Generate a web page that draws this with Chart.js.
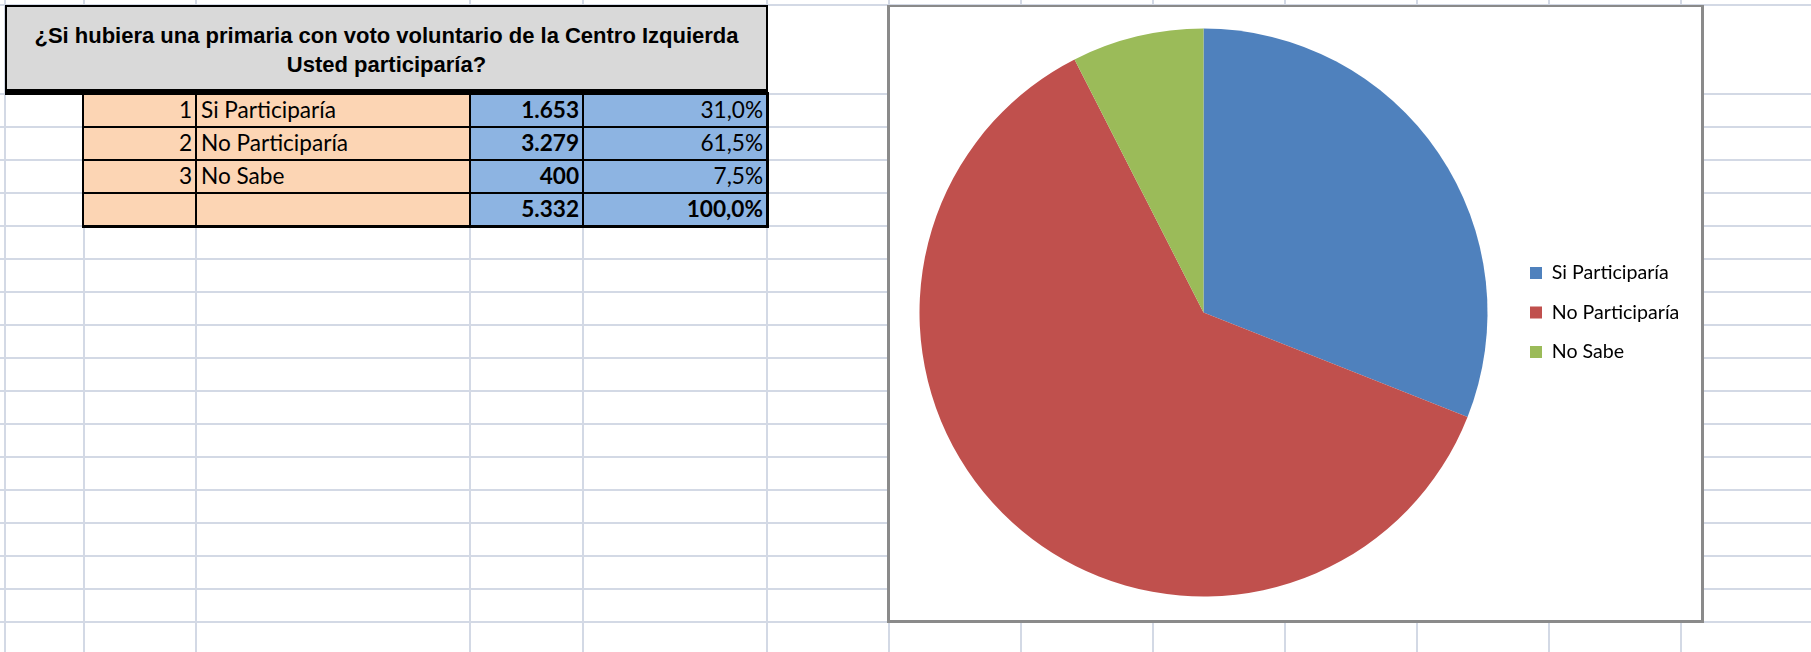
<!DOCTYPE html>
<html>
<head>
<meta charset="utf-8">
<title>Primaria Centro Izquierda</title>
<script src="https://cdn.jsdelivr.net/npm/chart.js@4.4.1/dist/chart.umd.min.js"></script>
<style>
  html, body { margin: 0; padding: 0; background: #fff; width: 1811px; height: 652px; overflow: hidden; }
  .gl { position: absolute; background: #d3d9e5; }
  #title { position: absolute; left: 5px; top: 5px; width: 763px; height: 90px; box-sizing: border-box;
           background: #d9d9d9; border: 2px solid #000; border-bottom-width: 6px;
           font-family: "Liberation Sans", Arial, sans-serif; font-weight: bold; font-size: 22px; color: #000; }
  #title div { position: absolute; left: 0; right: 0; text-align: center; line-height: 28px; white-space: nowrap; }
  #grid { position: absolute; left: 82px; top: 92px; width: 687px; height: 136px; background: #000; }
  .cell { position: absolute; box-sizing: border-box; font-family: Lato, sans-serif; font-size: 22.6px; color: #000;
          white-space: nowrap; overflow: hidden; display: flex; align-items: flex-end; padding: 0 3px 3px 4px; }
  .peach { background: #fcd5b4; }
  .blue { background: #8db4e2; }
  .r { justify-content: flex-end; }
  .b { font-weight: bold; }
  #chartBox { position: absolute; left: 887px; top: 5px; width: 817px; height: 618px; box-sizing: border-box;
              background: #fff; border: 3px solid #8a8a8a; border-top-width: 2px; }
  #chartBox canvas { position: absolute; left: 0; top: 0; }
</style>
</head>
<body>
<div id="sheet"></div>
<div id="title">
  <div id="t1" style="top: 15px;"></div>
  <div id="t2" style="top: 44px;"></div>
</div>
<div id="grid"></div>
<div id="chartBox"><canvas id="pie" width="811" height="613"></canvas></div>
<script>
const questionLines = ['¿Si hubiera una primaria con voto voluntario de la Centro Izquierda', 'Usted participaría?'];
const categories = ['Si Participaría', 'No Participaría', 'No Sabe'];
const counts = [1653, 3279, 400];
const colors = ['#4f81bd', '#c0504d', '#9bbb59'];

// sheet layout (px)
const rowLines = [5, 94, 127, 160, 193, 226, 259, 292, 325, 358, 391, 424, 457, 490, 523, 556, 589, 622];
const colLines = [5, 84, 196, 470, 583, 767, 889, 1021, 1153, 1285, 1417, 1549, 1681];
const tableCols = [83, 196, 470, 583, 767];
const tableRows = [94, 127, 160, 193, 226];

function fmtInt(n) {
  return String(n).replace(/\B(?=(\d{3})+(?!\d))/g, '.');
}
function fmtPct(v) {
  return (v * 100).toFixed(1).replace('.', ',') + '%';
}

function drawSheet() {
  const sheet = document.getElementById('sheet');
  rowLines.forEach(y => {
    const d = document.createElement('div');
    d.className = 'gl';
    d.style.cssText = `left:0;top:${y - 1}px;width:1811px;height:2px`;
    sheet.appendChild(d);
  });
  colLines.forEach(x => {
    const d = document.createElement('div');
    d.className = 'gl';
    d.style.cssText = `left:${x - 1}px;top:0;width:2px;height:652px`;
    sheet.appendChild(d);
  });
}

function drawTable() {
  document.getElementById('t1').textContent = questionLines[0];
  document.getElementById('t2').textContent = questionLines[1];

  const grid = document.getElementById('grid');
  const ox = 82, oy = 92;
  const total = counts.reduce((s, v) => s + v, 0);
  const rows = categories.map((c, i) => [String(i + 1), c, fmtInt(counts[i]), fmtPct(counts[i] / total)]);
  rows.push(['', '', fmtInt(total), fmtPct(1)]);

  rows.forEach((row, r) => {
    row.forEach((text, c) => {
      const d = document.createElement('div');
      let cls = 'cell ' + (c < 2 ? 'peach' : 'blue');
      if (c !== 1) cls += ' r';
      if (c === 2 || r === rows.length - 1) cls += ' b';
      d.className = cls;
      d.style.left = (tableCols[c] - ox + 1) + 'px';
      d.style.top = (tableRows[r] - oy + 1) + 'px';
      d.style.width = (tableCols[c + 1] - tableCols[c] - 2) + 'px';
      d.style.height = (tableRows[r + 1] - tableRows[r] - 2) + 'px';
      d.textContent = text;
      grid.appendChild(d);
    });
  });
}

function drawPie() {
  const legendFont = { family: 'Lato, sans-serif', size: 19.6 };
  const ctx = document.getElementById('pie').getContext('2d');
  ctx.font = `${legendFont.size}px ${legendFont.family}`;
  const textW = Math.max(...categories.map(c => ctx.measureText(c).width));

  const boxW = 12, pad = 39.5 - legendFont.size;
  const legendLeft = 640 - pad;                 // legend swatches at x=640 inside the canvas
  const legendWidth = pad + boxW + legendFont.size / 2 + textW + 10;
  const padRight = 811 - legendLeft - legendWidth;
  const padLeft = 2 * 313.5 - legendLeft;       // pie centre at x=313.5

  new Chart(ctx, {
    type: 'pie',
    data: {
      labels: categories,
      datasets: [{ data: counts, backgroundColor: colors, borderWidth: 0 }]
    },
    options: {
      responsive: false,
      animation: false,
      layout: { padding: { left: padLeft, right: padRight, top: 21.5, bottom: 23.5 } },
      plugins: {
        legend: {
          position: 'right',
          labels: { boxWidth: boxW, boxHeight: boxW, padding: pad, color: '#000', font: legendFont }
        },
        tooltip: { enabled: false }
      }
    }
  });
}

document.fonts.ready.then(() => {
  drawSheet();
  drawTable();
  drawPie();
});
</script>
</body>
</html>
